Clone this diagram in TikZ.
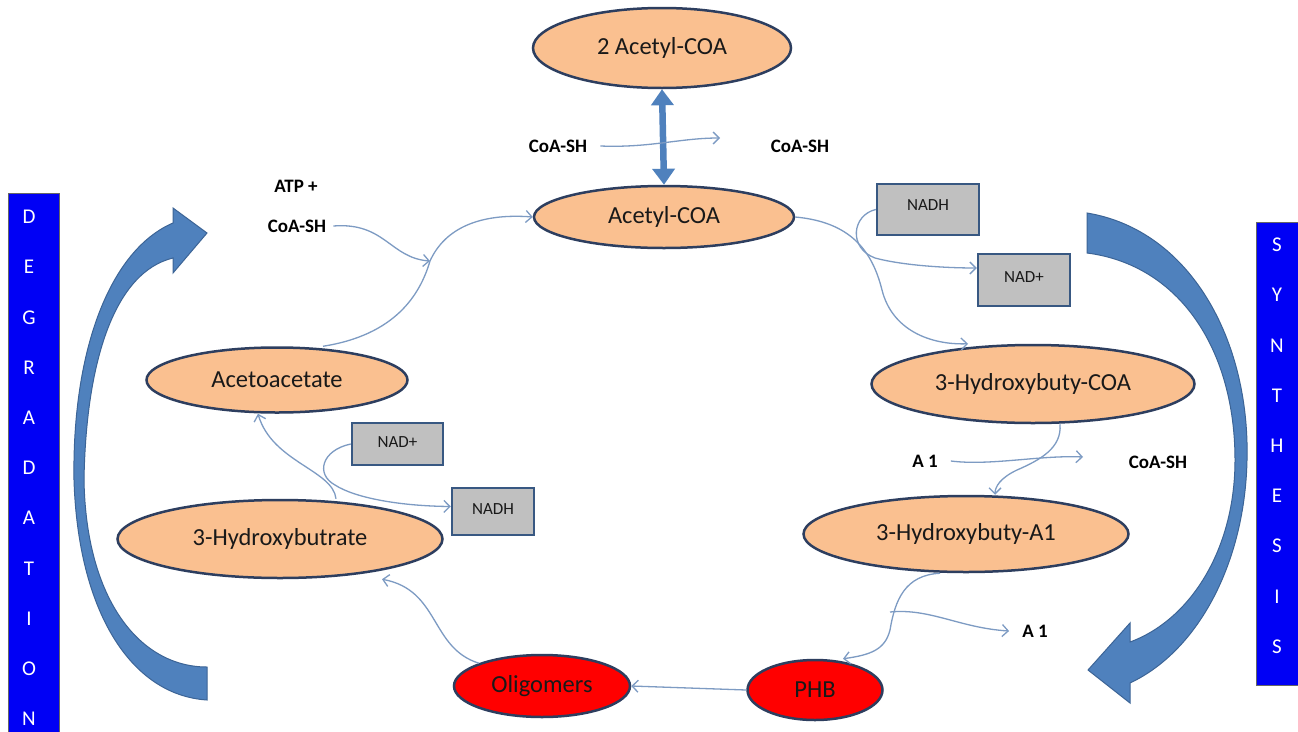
\documentclass[tikz,border=0pt]{standalone}
\usepackage{fontspec}
\setmainfont{Carlito}
\usetikzlibrary{shapes.geometric,arrows.meta}
\definecolor{peach}{RGB}{250,192,144}
\definecolor{ellborder}{RGB}{45,62,95}
\definecolor{redfill}{RGB}{255,0,0}
\definecolor{boxgray}{RGB}{192,192,192}
\definecolor{boxborder}{RGB}{56,88,130}
\definecolor{panelblue}{RGB}{0,0,245}
\definecolor{arrowblue}{RGB}{79,129,189}
\definecolor{arrowedge}{RGB}{60,100,150}
\definecolor{conncol}{RGB}{125,155,195}
\definecolor{textdark}{RGB}{25,25,25}
\tikzset{
  ell/.style={ellipse, draw=ellborder, line width=2.5pt, fill=peach, inner sep=0pt,
    font=\fontsize{24.5}{28}\selectfont, text=textdark},
  redell/.style={ell, fill=redfill},
  gbox/.style={rectangle, draw=boxborder, line width=2.5pt, fill=boxgray, inner sep=0pt,
    font=\fontsize{17}{20}\selectfont, text=textdark},
  lbl/.style={font=\bfseries\fontsize{19}{22}\selectfont, text=black, inner sep=1pt},
  conn/.style={draw=conncol, line width=1.3pt, -{Straight Barb[length=6pt,width=12pt]}},
  panel/.style={fill=panelblue, draw=black!60, line width=0.8pt},
  vlet/.style={font=\fontsize{21}{24}\selectfont, text=white, inner sep=0pt},
  bigarrow/.style={fill=arrowblue, draw=arrowedge, line width=1pt},
  dbl/.style={draw=arrowblue, line width=6.5pt, {Triangle[length=16pt,width=22pt]}-{Triangle[length=16pt,width=22pt]}}
}
\begin{document}
\begin{tikzpicture}[x=1pt,y=-1pt]
\useasboundingbox (0,0) rectangle (1298,731);
\fill[white] (0,0) rectangle (1298,731);

% side panels
\path[panel] (8,193) rectangle (59,740);
\path[panel] (1256,222) rectangle (1305,685);
\foreach \ch [count=\i] in {D,E,G,R,A,D,A,T,I,O,N}
  \node[vlet] (dl\i) at (29,217+50.2*\i-50.2) {\ch};
\foreach \ch [count=\i] in {S,Y,N,T,H,E,S,I,S}
  \node[vlet] (sl\i) at (1277,245+50.2*\i-50.2) {\ch};

% big curved arrows
\path[bigarrow] (207,700) .. controls (130,695) and (78,610) .. (74,480)
  .. controls (72,350) and (110,250) .. (173,223)
  -- (173,208) -- (207,233) -- (173,273) -- (173,258)
  .. controls (115,272) and (86,360) .. (84,480)
  .. controls (86,600) and (140,667) .. (207,667) -- cycle;
\path[bigarrow] (1087,213) .. controls (1190,230) and (1250,340) .. (1247,460)
  .. controls (1245,560) and (1200,650) .. (1130,683)
  -- (1130,703) -- (1088,670) -- (1130,623) -- (1130,642)
  .. controls (1190,620) and (1235,550) .. (1235,460)
  .. controls (1235,350) and (1180,265) .. (1087,253) -- cycle;

% ellipses
\node[ell, minimum width=258pt, minimum height=80pt] (acoa2) at (662,48) {2 Acetyl-COA};
\node[ell, minimum width=260pt, minimum height=62pt] (acoa) at (664,217) {Acetyl-COA};
\node[ell, minimum width=261pt, minimum height=65pt] (aceto) at (277,380) {Acetoacetate};
\node[ell, minimum width=325pt, minimum height=78pt] (hbut) at (280,539) {3-Hydroxybutrate};
\node[ell, minimum width=323pt, minimum height=78pt] (hbcoa) at (1033,384) {3-Hydroxybuty-COA};
\node[ell, minimum width=325pt, minimum height=76pt] (hba1) at (966,534) {3-Hydroxybuty-A1};
\node[redell, minimum width=176pt, minimum height=62pt] (olig) at (542,686) {Oligomers};
\node[redell, minimum width=135pt, minimum height=60pt] (phb) at (815,690) {PHB};

% gray boxes
\node[gbox, minimum width=102pt, minimum height=51pt] (nadh1) at (928,209.5) {\raisebox{8pt}{NADH}};
\node[gbox, minimum width=92pt, minimum height=52pt] (nadp1) at (1024,280) {\raisebox{6pt}{NAD+}};
\node[gbox, minimum width=91pt, minimum height=42pt] (nadp2) at (397.5,444) {\raisebox{4pt}{NAD+}};
\node[gbox, minimum width=82pt, minimum height=47pt] (nadh2) at (493,511.5) {\raisebox{4pt}{NADH}};

% labels
\node[lbl] (csh1) at (558,146) {CoA-SH};
\node[lbl] (csh1r) at (800,146) {CoA-SH};
\node[lbl] (atp) at (296,186) {ATP +};
\node[lbl] (csh2) at (297,226) {CoA-SH};
\node[lbl] (a1a) at (925,461) {A 1};
\node[lbl] (csh3) at (1158,462) {CoA-SH};
\node[lbl] (a1b) at (1035,631) {A 1};

% helper coordinates
\coordinate (c1) at (720,138);
\coordinate (j1) at (430,261);
\coordinate (c2) at (1083,457);
\coordinate (j2) at (890,612);

% double arrow
\draw[dbl] (acoa2.south) -- (acoa.north);

% thin connectors
\draw[conn] ([xshift=12pt]csh1.east) .. controls (650,148) and (680,138) .. (c1);
\draw[conn] ([xshift=6pt]csh2.east) .. controls (385,222) and (390,258) .. (j1);
\draw[conn] ([xshift=46pt]aceto.north) .. controls (395,335) and (420,295) .. (j1)
  .. controls (445,228) and (480,213) .. (acoa.west);
\draw[conn] (acoa.east) .. controls (850,222) and (872,250) .. (882,290)
  .. controls (892,330) and (930,345) .. ([xshift=-65pt]hbcoa.north);
\draw[conn] (nadh1.west) .. controls (852,215) and (848,248) .. (875,258)
  .. controls (905,266) and (950,268) .. ([yshift=12pt]nadp1.west);
\draw[conn] ([xshift=27pt]hbcoa.south) .. controls (1062,448) and (1040,460) .. (1017,470)
  .. controls (1000,478) and (995,487) .. ([xshift=29pt]hba1.north);
\draw[conn] ([xshift=12pt]a1a.east) .. controls (990,466) and (1040,455) .. (c2);
\draw[conn] ([xshift=-26pt]hba1.south) .. controls (905,575) and (895,600) .. (890,630)
  .. controls (885,650) and (870,655) .. ([xshift=28pt]phb.north);
\draw[conn] (j2) .. controls (930,608) and (960,628) .. ([xshift=-12pt]a1b.west);
\draw[conn] (phb.west) -- (olig.east);
\draw[conn] (olig.north west) .. controls (430,648) and (440,590) .. ([xshift=102pt]hbut.south);
\draw[conn] ([xshift=56pt]hbut.north) .. controls (333,470) and (272,462) .. ([xshift=-19pt]aceto.south);
\draw[conn] (nadp2.west) .. controls (322,450) and (315,474) .. (335,485)
  .. controls (355,498) and (400,506) .. ([yshift=5pt]nadh2.west);
\end{tikzpicture}
\end{document}
